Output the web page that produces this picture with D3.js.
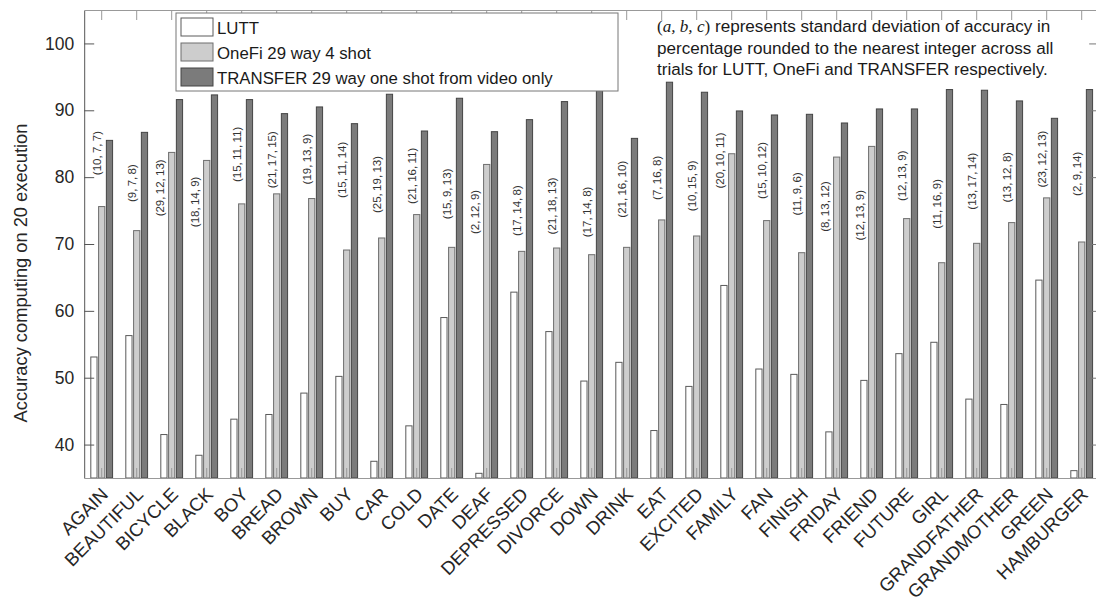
<!DOCTYPE html>
<html>
<head>
<meta charset="utf-8">
<script src="https://cdnjs.cloudflare.com/ajax/libs/d3/7.8.5/d3.min.js"></script>
<style>
    body { margin: 0; background: #fff; }
    text { font-family: "Liberation Sans", Arial, sans-serif; }
</style>
</head>
<body>
<div id="demo"></div>
<script>

//Signs shown on the x axis.
const words = ["AGAIN", "BEAUTIFUL", "BICYCLE", "BLACK", "BOY", "BREAD", "BROWN", "BUY", "CAR", "COLD",
    "DATE", "DEAF", "DEPRESSED", "DIVORCE", "DOWN", "DRINK", "EAT", "EXCITED", "FAMILY", "FAN",
    "FINISH", "FRIDAY", "FRIEND", "FUTURE", "GIRL", "GRANDFATHER", "GRANDMOTHER", "GREEN", "HAMBURGER"];

//Series names (legend order).
const seriesNames = ["LUTT", "OneFi 29 way 4 shot", "TRANSFER 29 way one shot from video only"];

//Accuracy values.
const lutt = [53.1, 56.3, 41.5, 38.4, 43.8, 44.5, 47.7, 50.2, 37.5, 42.8, 59.0, 35.7, 62.8, 56.9, 49.5,
    52.3, 42.1, 48.7, 63.8, 51.3, 50.5, 41.9, 49.6, 53.6, 55.3, 46.8, 46.0, 64.6, 36.1];
const onefi = [75.6, 72.0, 83.7, 82.5, 76.0, 77.5, 76.8, 69.1, 70.9, 74.4, 69.5, 81.9, 68.9, 69.4, 68.4,
    69.5, 73.6, 71.2, 83.5, 73.5, 68.7, 83.0, 84.6, 73.8, 67.2, 70.1, 73.2, 76.9, 70.3];
const transfer = [85.5, 86.7, 91.6, 92.3, 91.6, 89.5, 90.5, 88.0, 92.4, 86.9, 91.8, 86.8, 88.6, 91.3, 93.0,
    85.8, 94.2, 92.7, 89.9, 89.3, 89.4, 88.1, 90.2, 90.2, 93.1, 93.0, 91.4, 88.8, 93.1];

//Standard deviations (a,b,c) written above each group, and where they sit on the y axis.
const stdDev = ["(10,7,7)", "(9,7,8)", "(29,12,13)", "(18,14,9)", "(15,11,11)", "(21,17,15)", "(19,13,9)",
    "(15,11,14)", "(25,19,13)", "(21,16,11)", "(15,9,13)", "(2,12,9)", "(17,14,8)", "(21,18,13)", "(17,14,8)",
    "(21,16,10)", "(7,16,8)", "(10,15,9)", "(20,10,11)", "(15,10,12)", "(11,9,6)", "(8,13,12)", "(12,13,9)",
    "(12,13,9)", "(11,16,9)", "(13,17,14)", "(13,12,8)", "(23,12,13)", "(2,9,14)"];
const stdDevAt = [83.6, 79.1, 78.4, 76.3, 83.4, 82.6, 82.7, 81.1, 78.9, 80.2, 77.5, 74.8, 75.0, 75.7, 74.8,
    78.2, 79.9, 78.7, 82.5, 81.0, 77.5, 75.6, 74.3, 80.2, 76.0, 79.4, 80.0, 82.7, 80.5];

//Y ticks.
const yTicks = [40, 50, 60, 70, 80, 90, 100];

const w = 1096;
const h = 613;

//Plot box edges.
const m = { top: 10, left: 84.2, right: 1099.2, bottom: 478 };

const colors = ["#ffffff", "#cdcdcd", "#7b7b7b"];
const strokes = ["#5a5a5a", "#6e6e6e", "#444444"];

const svg = d3.select("#demo")
    .append("svg")
    .attr("width", w)
    .attr("height", h);

//Group scale and inner scale for the three bars.
const x = d3.scaleBand().domain(words).range([m.left, m.right]).padding(0);
const groupW = x.bandwidth() * 2 / 3;
const x1 = d3.scaleBand().domain([0, 1, 2]).range([0, groupW]).paddingInner(0.2).paddingOuter(0.1);
const y = d3.scaleLinear().domain([35, 105]).range([m.bottom, m.top]);

const center = (d) => x(d) + x.bandwidth() / 2;

//Building rows for bars.
const rows = [];
words.forEach((wd, i) => {
    [lutt[i], onefi[i], transfer[i]].forEach((v, k) => rows.push({ word: wd, k: k, v: v }));
});

svg.append("g")
    .selectAll("rect")
    .data(rows)
    .enter()
    .append("rect")
    .attr("x", d => center(d.word) - groupW / 2 + x1(d.k))
    .attr("width", x1.bandwidth())
    .attr("y", d => y(d.v))
    .attr("height", d => y(35) - y(d.v))
    .attr("fill", d => colors[d.k])
    .attr("stroke", d => strokes[d.k])
    .attr("stroke-width", 1);

//Axes: ticks pointing inwards like matlab.
svg.append("g")
    .attr("transform", "translate(" + m.left + ",0)")
    .call(d3.axisLeft(y).tickValues(yTicks).tickSizeInner(-10).tickSizeOuter(0).tickPadding(10))
    .call(g => g.select(".domain").attr("stroke", "#555"))
    .call(g => g.selectAll(".tick line").attr("stroke", "#555"))
    .call(g => g.selectAll("text").attr("font-size", "17.5px").attr("fill", "#262626")
        .attr("font-family", "Liberation Sans, Arial, sans-serif"));

svg.append("g")
    .attr("transform", "translate(" + m.right + ",0)")
    .call(d3.axisRight(y).tickValues(yTicks).tickSizeInner(-10).tickSizeOuter(0).tickFormat(""))
    .call(g => g.selectAll("path, line").attr("stroke", "#777"));

svg.append("g")
    .attr("transform", "translate(0," + m.top + ")")
    .call(d3.axisTop(x).tickSizeInner(-10).tickSizeOuter(0).tickFormat(""))
    .call(g => g.selectAll("path, line").attr("stroke", "#999"));

svg.append("g")
    .attr("transform", "translate(0," + m.bottom + ")")
    .call(d3.axisBottom(x).tickSizeInner(-10).tickSizeOuter(0).tickFormat(""))
    .call(g => g.selectAll("path, line").attr("stroke", "#999"));

//Rotated category labels.
svg.append("g")
    .selectAll("text")
    .data(words)
    .enter()
    .append("text")
    .attr("transform", d => "translate(" + (center(d) + 3) + "," + (m.bottom + 13) + ") rotate(-45)")
    .attr("text-anchor", "end")
    .attr("dy", "0.35em")
    .attr("font-size", "18.5px")
    .attr("fill", "#262626")
    .text(d => d);

//Std deviation labels; moved left when they would run into the OneFi bar.
svg.append("g")
    .selectAll("text")
    .data(words)
    .enter()
    .append("text")
    .attr("transform", (d, i) => {
        let half = stdDev[i].length * 3.3;
        let bottom = y(stdDevAt[i]) + half;
        let dx = bottom > y(onefi[i]) ? -12 : -5;
        return "translate(" + (center(d) + dx) + "," + y(stdDevAt[i]) + ") rotate(-90)";
    })
    .attr("text-anchor", "middle")
    .attr("dominant-baseline", "central")
    .attr("font-family", "DejaVu Sans, sans-serif")
    .attr("font-size", "11.5px")
    .attr("fill", "#333")
    .text((d, i) => stdDev[i].replace(/,/g, ",\u2009"));

//Y axis title.
svg.append("text")
    .attr("transform", "translate(20," + 273 + ") rotate(-90)")
    .attr("text-anchor", "middle")
    .attr("dominant-baseline", "central")
    .attr("font-size", "18.3px")
    .attr("fill", "#262626")
    .text("Accuracy computing on 20 execution");

//Legend box.
const legend = svg.append("g").attr("transform", "translate(176,13)");
legend.append("rect")
    .attr("width", 442)
    .attr("height", 78)
    .attr("fill", "#fff")
    .attr("stroke", "#777");
seriesNames.forEach((s, k) => {
    legend.append("rect")
        .attr("x", 5)
        .attr("y", 5 + k * 25)
        .attr("width", 32)
        .attr("height", 18)
        .attr("fill", colors[k])
        .attr("stroke", strokes[k]);
    legend.append("text")
        .attr("x", 41)
        .attr("y", 21 + k * 25)
        .attr("font-size", "16.8px")
        .attr("fill", "#1a1a1a")
        .text(s);
});

//Note in the top right corner.
const note = svg.append("text")
    .attr("x", 657)
    .attr("y", 32)
    .attr("font-size", "17.1px")
    .attr("fill", "#1a1a1a");
note.append("tspan").attr("font-family", "Liberation Serif, serif").text("(");
note.append("tspan").attr("font-family", "Liberation Serif, serif").attr("font-style", "italic").text("a, b, c");
note.append("tspan").attr("font-family", "Liberation Serif, serif").text(")");
note.append("tspan").text(" represents standard deviation of accuracy in");
svg.append("text")
    .attr("x", 657)
    .attr("y", 53.5)
    .attr("font-size", "17.1px")
    .attr("fill", "#1a1a1a")
    .text("percentage rounded to the nearest integer across all");
svg.append("text")
    .attr("x", 657)
    .attr("y", 74.5)
    .attr("font-size", "17.1px")
    .attr("fill", "#1a1a1a")
    .text("trials for LUTT, OneFi and TRANSFER respectively.");

</script>
</body>
</html>
